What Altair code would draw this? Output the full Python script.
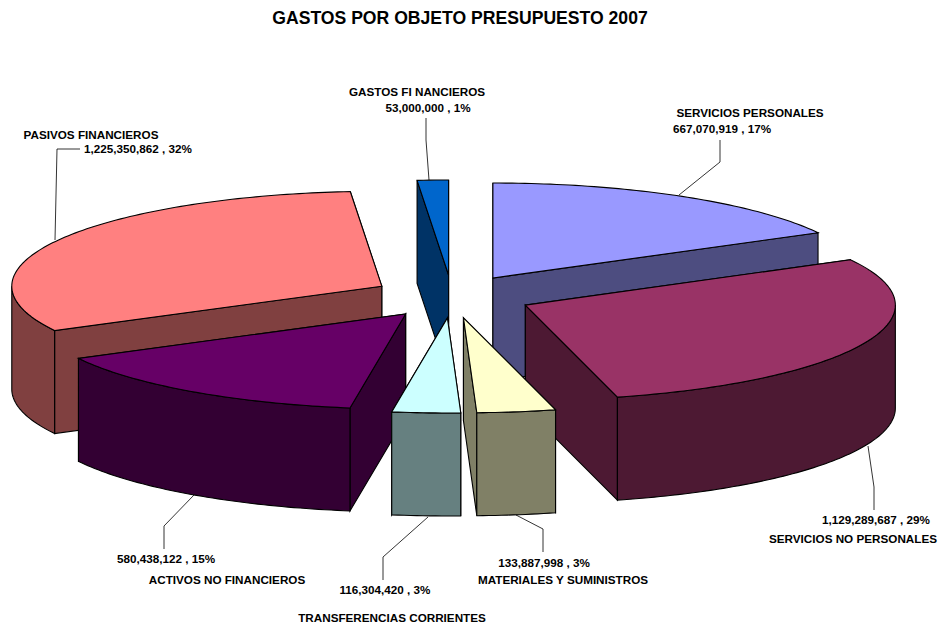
import math
import altair as alt

# ---- data ----
names = ["SERVICIOS PERSONALES", "SERVICIOS NO PERSONALES", "MATERIALES Y SUMINISTROS",
         "TRANSFERENCIAS CORRIENTES", "ACTIVOS NO FINANCIEROS", "PASIVOS FINANCIEROS",
         "GASTOS FI NANCIEROS"]
values = [667070919, 1129289687, 133887998, 116304420, 580438122, 1225350862, 53000000]
percents = [17, 29, 3, 3, 15, 32, 1]
top_colors = ["#9999FF", "#993366", "#FFFFCC", "#CCFFFF", "#660066", "#FF8080", "#0066CC"]
side_colors = ["#4D4D80", "#4D1933", "#808066", "#668080", "#330033", "#804040", "#003366"]

# ---- layout of the 3-D pie ----
CX, CY, RX, RY, DEPTH, EXPLODE_X, EXPLODE_Y = 452, 296.5, 370, 95, 103, 80, 21.5
OX, OY = 8, 34  # svg origin of the plot group, in page pixels
FONT = "Liberation Sans"

total = sum(values)
wedges = []
cum = 0
for name, v, top, side in zip(names, values, top_colors, side_colors):
    a0 = cum / total * 360
    cum += v
    a1 = cum / total * 360
    mid = math.radians((a0 + a1) / 2)
    ax = CX + EXPLODE_X * math.sin(mid)
    ay = CY - EXPLODE_Y * math.cos(mid)
    wedges.append(dict(a0=a0, a1=a1, ax=ax, ay=ay, top=top, side=side))


def rim(w, deg, drop=0):
    r = math.radians(deg)
    return [w["ax"] + RX * math.sin(r), w["ay"] - RY * math.cos(r) + drop]


def arc(w, a, b, drop=0):
    n = max(2, int(abs(b - a)) + 2)
    return [rim(w, a + (b - a) * i / (n - 1), drop) for i in range(n)]


def poly(points, fill):
    ring = points + [points[0]]
    return {"type": "Feature", "properties": {"fill": fill},
            "geometry": {"type": "Polygon", "coordinates": [ring]}}


features = []
for w in sorted(wedges, key=lambda w: w["ay"]):
    apex = [w["ax"], w["ay"]]
    apex_low = [w["ax"], w["ay"] + DEPTH]
    walls = sorted([w["a0"], w["a1"]], key=lambda d: rim(w, d)[1])
    for d in walls:
        features.append(poly([apex, rim(w, d), rim(w, d, DEPTH), apex_low], w["side"]))
    lo, hi = max(w["a0"], 90), min(w["a1"], 270)
    if hi > lo:
        features.append(poly(arc(w, lo, hi) + arc(w, hi, lo, DEPTH), w["side"]))
    features.append(poly([apex] + arc(w, w["a0"], w["a1"]), w["top"]))

PROJECTION = dict(type="identity", scale=1, translate=[-OX, -OY])

pie = alt.Chart(alt.Data(values=features)).mark_geoshape(
    stroke="black", strokeWidth=1.1, strokeJoin="miter"
).encode(color=alt.Color("properties.fill:N", scale=None)).project(**PROJECTION)

# leader lines, in page pixels
leaders = [
    [[679, 195], [720, 162], [720, 140]],
    [[868, 446], [874, 487], [874, 510]],
    [[516, 515], [543, 529], [543, 552]],
    [[428, 517], [383, 557], [383, 580]],
    [[194, 495], [164, 526], [164, 549]],
    [[55, 240], [57, 149], [80, 149]],
    [[429, 180], [426, 140], [426, 118]],
]
leader_features = [{"type": "Feature", "properties": {},
                    "geometry": {"type": "LineString", "coordinates": c}} for c in leaders]
lines = alt.Chart(alt.Data(values=leader_features)).mark_geoshape(
    filled=False, stroke="black", strokeWidth=0.8
).project(**PROJECTION)

# label centres, in page pixels: name then amount
name_pos = [(750, 113), (853, 539), (563, 580), (392, 618), (227, 580), (91, 135), (417, 92)]
amount_pos = [(722, 129), (876, 520), (544, 563), (385, 590), (166, 559), (138, 149), (428, 108)]

layers = [pie, lines]
blank = alt.Data(values=[{"a": 1}])
for name, v, p, np_, ap in zip(names, values, percents, name_pos, amount_pos):
    for txt, pos in ((name, np_), (f"{v:,} , {p}%", ap)):
        layers.append(alt.Chart(blank).mark_text(
            text=txt, x=pos[0] - OX, y=pos[1] - OY, font=FONT, fontSize=11.7,
            fontWeight="bold", color="black", align="center", baseline="middle"))

chart = alt.layer(*layers).properties(
    width=930, height=616 - OY + 8,
    padding={"left": 0, "top": OY - 8, "right": 0, "bottom": 0},
    autosize=alt.AutoSizeParams(type="none"),
    title=alt.TitleParams("GASTOS POR OBJETO PRESUPUESTO 2007", font=FONT, fontSize=17.6,
                          fontWeight="bold", color="black", anchor="start",
                          align="center", dx=460 - OX, offset=6),
).configure_view(stroke=None)

chart.save("out.html", embed_options={"renderer": "svg", "actions": False})
